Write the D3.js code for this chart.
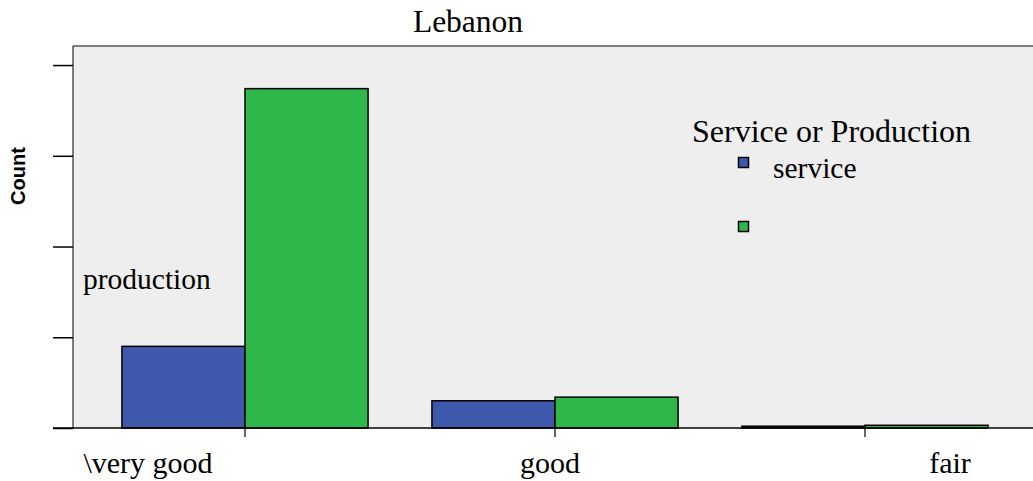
<!DOCTYPE html>
<html><head><meta charset="utf-8">
<script src="https://cdn.jsdelivr.net/npm/d3@7"></script>
<style>body{margin:0;background:#fff}svg{display:block}</style>
</head><body>
<svg id="c" width="1033" height="481"></svg>
<script>
const categories = ["\\very good", "good", "fair"];
const seriesNames = ["service", "production"];
const serviceValues = [45, 15, 1];
const productionValues = [187, 17, 1.5];
const yTicks = [0, 50, 100, 150, 200];
const chartTitle = "Lebanon";
const legendTitle = "Service or Production";
const yTitle = "Count";

const colors = {service: "#3E58AC", production: "#2FB84A"};
const serif = "'Liberation Serif', 'Times New Roman', serif";
const svg = d3.select("#c");

const L = 73, T = 46, R = 1033, B = 428;
const y = d3.scaleLinear().domain([0, 210.5]).range([B, T]);
const x0 = d3.scaleBand().domain(categories).range([90, 1020]).paddingInner(0.206).paddingOuter(0.103);
const x1 = d3.scaleBand().domain(seriesNames).range([0, x0.bandwidth()]);

// panel
svg.append("rect").attr("x", L).attr("y", T).attr("width", R - L).attr("height", B - T).attr("fill", "#eeeeee");
svg.append("line").attr("x1", L).attr("x2", R).attr("y1", T).attr("y2", T).attr("stroke", "#808080").attr("stroke-width", 2);
svg.append("line").attr("x1", L).attr("x2", L).attr("y1", T).attr("y2", B).attr("stroke", "#000").attr("stroke-width", 1);

// bars
const rows = categories.map((c, i) => ({cat: c, vals: [
  {key: "service", v: serviceValues[i]}, {key: "production", v: productionValues[i]}]}));
const g = svg.append("g").selectAll("g").data(rows).join("g")
  .attr("transform", d => `translate(${x0(d.cat)},0)`);
g.selectAll("rect").data(d => d.vals).join("rect")
  .attr("x", d => x1(d.key)).attr("width", x1.bandwidth())
  .attr("y", d => y(d.v)).attr("height", d => y(0) - y(d.v))
  .attr("fill", d => colors[d.key]).attr("stroke", "#000").attr("stroke-width", 1.5);

// y axis (ticks only)
const ya = svg.append("g").attr("transform", `translate(${L},0)`)
  .call(d3.axisLeft(y).tickValues(yTicks).tickFormat("").tickSize(20).tickSizeOuter(0));
ya.select(".domain").remove();
ya.selectAll(".tick line").attr("stroke", "#000").attr("stroke-width", 1.5);

// x axis
const xa = svg.append("g").attr("transform", `translate(0,${B})`)
  .call(d3.axisBottom(x0).tickFormat("").tickSize(9).tickSizeOuter(0));
xa.select(".domain").remove();
xa.selectAll(".tick line").attr("stroke", "#000").attr("stroke-width", 1.2);
xa.selectAll(".tick").attr("transform", d => `translate(${x0(d) + x0.bandwidth() / 2},0)`);
svg.append("line").attr("x1", 53).attr("x2", R).attr("y1", B).attr("y2", B).attr("stroke", "#000").attr("stroke-width", 1.5);

// x labels (offset as in reference)
const labelShift = [-97, -5, 85];
svg.append("g").selectAll("text").data(categories).join("text")
  .attr("x", (d, i) => x0(d) + x0.bandwidth() / 2 + labelShift[i]).attr("y", 473)
  .attr("text-anchor", "middle").attr("font-family", serif).attr("font-size", 30)
  .attr("fill", "#000").text(d => d);

// title
svg.append("text").attr("x", 468).attr("y", 32).attr("text-anchor", "middle")
  .attr("font-family", serif).attr("font-size", 31.5).text(chartTitle);

// y title
svg.append("text").attr("transform", "translate(25,176) rotate(-90)").attr("text-anchor", "middle")
  .attr("font-family", "'Liberation Sans', Arial, sans-serif").attr("font-weight", "bold")
  .attr("font-size", 20).text(yTitle);

// legend
svg.append("text").attr("x", 692).attr("y", 142).attr("font-family", serif).attr("font-size", 32).text(legendTitle);
const legY = [162.5, 226.5];
seriesNames.forEach((s, i) => {
  svg.append("rect").attr("x", 738.5).attr("y", legY[i] - 5).attr("width", 10).attr("height", 10)
    .attr("fill", colors[s]).attr("stroke", "#000").attr("stroke-width", 1.5);
});
svg.append("text").attr("x", 773).attr("y", 178).attr("font-family", serif).attr("font-size", 29.5).text(seriesNames[0]);
svg.append("text").attr("x", 83).attr("y", 289).attr("font-family", serif).attr("font-size", 29.5).text(seriesNames[1]);
</script>
</body></html>
